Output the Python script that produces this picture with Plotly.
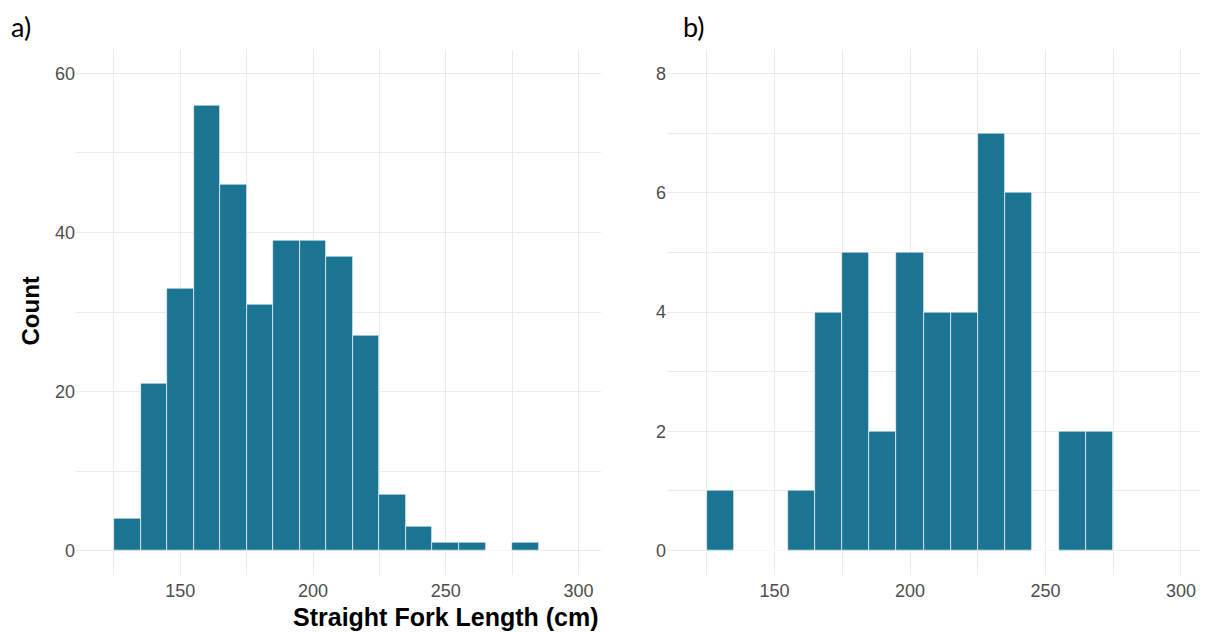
import plotly.graph_objects as go

# Bin centres (bin width 10 cm) and counts
bins_a = [130, 140, 150, 160, 170, 180, 190, 200, 210, 220, 230, 240, 250, 260, 270, 280]
counts_a = [4, 21, 33, 56, 46, 31, 39, 39, 37, 27, 7, 3, 1, 1, 0, 1]

bins_b = [130, 140, 150, 160, 170, 180, 190, 200, 210, 220, 230, 240, 250, 260, 270]
counts_b = [1, 0, 0, 1, 4, 5, 2, 5, 4, 4, 7, 6, 0, 2, 2]

x_ticks = [150, 200, 250, 300]
bar_color = "#1B7592"

# page body has an 8px margin: figure drawn at (8, 8)
OFF = 8
OFFY = 6.5
W, H = 1208 - OFF, 633 - OFF

def px(x):
    return (x - OFF) / W

def py(y):
    return (H - (y - OFFY)) / H

fig = go.Figure()
fig.add_trace(go.Bar(x=bins_a, y=counts_a, width=10, marker=dict(color=bar_color, line=dict(color="rgba(255,255,255,0.9)", width=0.7)),
                     xaxis="x", yaxis="y", showlegend=False))
fig.add_trace(go.Bar(x=bins_b, y=counts_b, width=10, marker=dict(color=bar_color, line=dict(color="rgba(255,255,255,0.9)", width=0.7)),
                     xaxis="x2", yaxis="y2", showlegend=False))

tickfont = dict(family="Liberation Sans, Arial, sans-serif", size=18, color="#4D4D4D")
grid = "#EBEBEB"

def xax(domain, anchor, rng):
    return dict(domain=domain, anchor=anchor, range=rng, tickvals=x_ticks,
                showgrid=True, gridcolor=grid, gridwidth=1.2, zeroline=False, showline=False,
                ticks="", tickfont=tickfont, ticklabelstandoff=3,
                minor=dict(dtick=25, tick0=0, showgrid=True, gridcolor=grid, gridwidth=1))

def yax(domain, anchor, rng, dtick):
    return dict(domain=domain, anchor=anchor, range=rng, dtick=dtick, tick0=0,
                showgrid=True, gridcolor=grid, gridwidth=1.2, zeroline=False, showline=False,
                ticks="", tickfont=tickfont,
                minor=dict(dtick=dtick / 2, tick0=0, showgrid=True, gridcolor=grid, gridwidth=1))

ydom = [py(573), py(48)]
fig.update_layout(
    width=W, height=H,
    margin=dict(l=0, r=0, t=0, b=0),
    plot_bgcolor="white", paper_bgcolor="white",
    bargap=0,
    xaxis=xax([px(76), px(601)], "y", [110.7, 308.5]),
    yaxis=yax(ydom, "x", [-3, 63], 20),
    xaxis2=xax([px(667), px(1204)], "y2", [110.3, 308.5]),
    yaxis2=yax(ydom, "x2", [-0.4, 8.4], 2),
)

ann = []
ann.append(dict(text="a)", x=px(9), y=py(25), xref="paper", yref="paper", xanchor="left", yanchor="middle",
                showarrow=False, font=dict(family="Lato, sans-serif", size=27, color="black")))
ann.append(dict(text="b)", x=px(681), y=py(25), xref="paper", yref="paper", xanchor="left", yanchor="middle",
                showarrow=False, font=dict(family="Lato, sans-serif", size=27, color="black")))
ann.append(dict(text="<b>Count</b>", x=px(30), y=py(310), xref="paper", yref="paper", xanchor="center", yanchor="middle",
                textangle=-90, showarrow=False, font=dict(family="Liberation Sans, Arial, sans-serif", size=24, color="black")))
ann.append(dict(text="<b>Straight Fork Length (cm)</b>", x=px(601), y=py(615), xref="paper", yref="paper",
                xanchor="right", yanchor="middle", showarrow=False,
                font=dict(family="Liberation Sans, Arial, sans-serif", size=25, color="black")))
fig.update_layout(annotations=ann)

fig.write_html("out.html")
